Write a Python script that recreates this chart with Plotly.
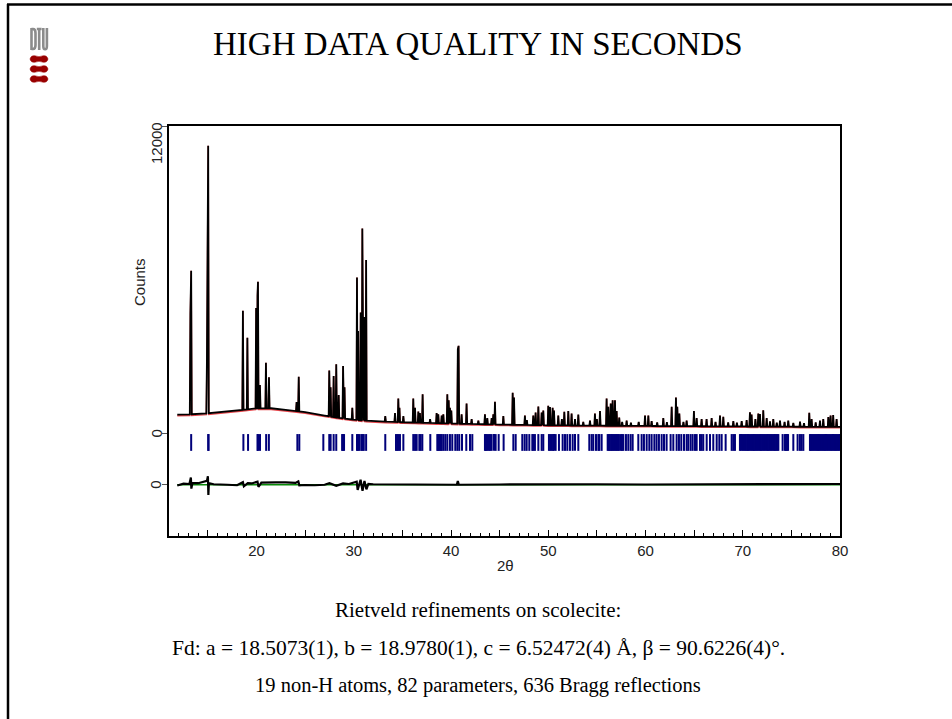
import numpy as np
import plotly.graph_objects as go

# ---------------- data ----------------
# background (2theta, counts) for observed and calculated curves
bg_x = [11.85, 13.0, 14.5, 16.0, 18.0, 20.0, 21.5, 23.0, 25.0, 27.0, 28.5, 30.0, 32.0,
        35.0, 40.0, 45.0, 50.0, 55.0, 60.0, 65.0, 70.0, 75.0, 80.0]
bg_obs = [740, 745, 770, 820, 900, 980, 985, 930, 830, 700, 610, 540, 480,
          440, 390, 350, 320, 305, 295, 285, 275, 265, 255]
bg_calc = [690, 700, 725, 775, 855, 935, 940, 890, 790, 660, 570, 500, 440,
           400, 350, 315, 285, 270, 260, 250, 240, 230, 220]

# observed / calculated reflections: position (deg 2theta) and peak top (counts)
peak_pos = [13.20, 13.28, 14.90, 14.97, 15.03, 18.60, 19.06, 19.96, 20.10, 20.15,
            20.35, 20.97, 21.28, 24.12, 24.34, 27.48, 27.62, 27.93, 28.20, 28.45,
            28.90, 29.05, 29.85, 30.33, 30.45, 30.71, 30.88, 31.07, 31.27, 33.24,
            34.24, 34.58, 34.70, 35.10, 36.12, 36.30, 36.64, 36.80, 37.08, 37.85,
            38.52, 38.69, 39.04, 39.21, 39.62, 39.76, 39.89, 40.03, 40.70, 40.78,
            41.09, 41.60, 42.12, 42.81, 43.49, 43.73, 44.18, 44.35, 44.52, 45.38,
            46.34, 46.48, 47.60, 47.80, 48.46, 48.70, 48.98, 49.32, 49.49, 50.00,
            50.18, 50.45, 50.59, 51.03, 51.40, 51.65, 52.06, 52.40, 52.75, 53.09,
            53.60, 54.29, 54.80, 55.00, 55.32, 56.00, 56.17, 56.42, 56.62, 56.86,
            57.03, 57.30, 57.60, 58.06, 58.50, 59.30, 59.95, 60.29, 60.63, 61.20,
            61.83, 62.20, 62.69, 63.13, 63.27, 63.48, 63.90, 64.23, 64.98, 65.26,
            65.77, 66.28, 66.80, 67.20, 67.66, 68.00, 68.50, 69.03, 69.40, 69.89,
            70.40, 70.74, 70.91, 71.30, 71.60, 71.77, 72.11, 72.46, 72.80, 73.14,
            73.50, 73.83, 74.30, 74.68, 75.20, 75.89, 76.30, 76.84, 77.08, 77.50,
            77.94, 78.28, 78.80, 79.03, 79.30, 79.65]
peak_top = [4700, 6350, 2860, 9960, 11230, 4790, 3735, 4900, 5370, 5920,
            1890, 2760, 2190, 1230, 2210, 2460, 1800, 2240, 2700, 1500,
            2630, 1800, 1000, 6090, 4000, 4720, 8000, 4550, 6770, 675,
            800, 1365, 1000, 675, 1365, 1000, 860, 800, 1535, 560,
            800, 750, 700, 750, 1535, 1300, 1000, 900, 3280, 3420,
            750, 1170, 560, 500, 750, 600, 600, 750, 1235, 680,
            1590, 1400, 700, 520, 700, 820, 1050, 820, 900, 1085,
            1030, 1000, 900, 700, 560, 845, 880, 775, 560, 735,
            450, 500, 775, 560, 880, 1365, 1040, 1170, 1300, 1300,
            880, 620, 450, 500, 420, 450, 700, 700, 480, 430,
            600, 440, 1040, 1400, 1040, 775, 450, 500, 880, 600,
            560, 560, 600, 450, 700, 650, 430, 480, 420, 480,
            520, 830, 740, 560, 780, 760, 905, 600, 470, 560,
            420, 500, 450, 500, 410, 460, 400, 810, 560, 430,
            500, 560, 640, 700, 720, 560]

# difference curve (2theta, obs - calc)
diff_x = [11.85, 12.5, 13.1, 13.25, 13.3, 13.4, 14.0, 14.9, 15.0, 15.05, 15.1, 15.6,
          17.0, 18.0, 18.6, 18.7, 19.1, 19.5, 20.1, 20.2, 20.5, 21.0, 22.0, 23.0,
          24.0, 24.3, 24.4, 25.0, 26.0, 27.0, 27.5, 28.2, 28.9, 29.5, 30.3, 30.4,
          30.7, 30.9, 31.1, 31.3, 31.5, 32.0, 35.0, 40.6, 40.7, 40.8, 45.0, 50.0,
          55.0, 60.0, 65.0, 70.0, 75.0, 80.0]
diff_y = [-30, 40, 30, 280, -150, 60, 60, 150, 330, -400, 60, 20,
          0, -20, 100, -60, 60, 50, 120, -80, 80, 90, 90, 90,
          70, 130, -20, -10, -20, 0, 60, -40, 50, 30, 120, -200,
          195, -235, 150, -180, 30, 20, 20, 0, 150, 0, 10, 20,
          20, 10, 10, 30, 20, 30]
diff_offset = -2000

# Bragg reflection positions
bragg = [13.28, 15.03, 15.07, 18.65, 19.13, 20.10, 20.15, 20.36, 20.99, 21.27,
         24.20, 24.40, 26.87, 27.48, 27.62, 27.93, 28.20, 28.80, 28.90, 29.00,
         29.85, 30.33, 30.45, 30.58, 30.78, 30.90, 31.03, 31.27, 33.24, 34.34,
         34.48, 34.58, 34.75, 35.10, 36.12, 36.30, 36.47, 36.74, 36.88, 37.05,
         37.87, 38.59, 38.69, 38.80, 38.93, 39.04, 39.21, 39.41, 39.62, 39.89,
         40.13, 40.44, 40.65, 40.85, 41.13, 41.57, 41.95, 42.19, 43.49, 43.60,
         43.73, 43.87, 44.01, 44.18, 44.42, 44.59, 44.90, 45.41, 46.41, 46.65,
         47.33, 47.57, 47.78, 48.05, 48.36, 48.46, 48.63, 48.98, 49.32, 49.49,
         50.07, 50.21, 50.35, 50.49, 50.59, 50.76, 51.10, 51.48, 51.72, 51.96,
         52.23, 52.51, 52.75, 53.09, 54.22, 54.46, 54.63, 54.91, 55.15, 55.25,
         55.49, 56.11, 56.23, 56.33, 56.46, 56.57, 56.69, 56.80, 56.93, 57.03,
         57.15, 57.27, 57.45, 57.58, 57.72, 57.99, 58.23, 58.47, 58.68, 59.26,
         59.60, 59.84, 60.12, 60.39, 60.63, 60.91, 61.14, 61.38, 61.66, 61.90,
         62.17, 62.58, 62.86, 63.20, 63.44, 63.68, 63.96, 64.23, 64.40, 64.64,
         64.85, 65.09, 65.26, 65.60, 65.77, 65.94, 66.29, 66.63, 66.97, 67.32,
         67.59, 67.83, 68.24, 68.86, 69.03, 69.20, 69.71, 69.82, 69.96, 70.07,
         70.20, 70.31, 70.44, 70.55, 70.66, 70.80, 70.91, 71.04, 71.15, 71.27,
         71.40, 71.51, 71.63, 71.76, 71.87, 71.99, 72.12, 72.23, 72.35, 72.48,
         72.59, 72.71, 72.84, 72.95, 73.07, 73.20, 73.31, 73.43, 73.56, 73.66,
         74.10, 74.34, 74.45, 74.55, 74.66, 75.20, 75.64, 75.88, 76.05, 76.23,
         76.91, 77.02, 77.15, 77.26, 77.38, 77.50, 77.62, 77.74, 77.85, 77.97,
         78.09, 78.21, 78.33, 78.45, 78.56, 78.68, 78.80, 78.92, 79.04, 79.16,
         79.28, 79.40, 79.52, 79.63, 79.75, 79.87, 79.99]
bragg_level = -350

x_tick_vals = [15, 20, 25, 30, 35, 40, 45, 50, 55, 60, 65, 70, 75, 80]
x_tick_text = ["", "20", "", "30", "", "40", "", "50", "", "60", "", "70", "", "80"]
y_tick_vals = [-2000, 0, 12000]
y_tick_text = ["0", "0", "12000"]

title_text = "HIGH DATA QUALITY IN SECONDS"
caption_lines = [
    "Rietveld refinements on scolecite:",
    "Fd: a = 18.5073(1), b = 18.9780(1), c = 6.52472(4) Å, β = 90.6226(4)°.",
    "19 non-H atoms, 82 parameters, 636 Bragg reflections",
]

# ---------------- build profile lines ----------------
HW = 0.06


def profile(bx, by):
    base = lambda t: float(np.interp(t, bx, by))
    xs, ys, spans = [], [], []
    n = len(peak_pos)
    start = None
    for i in range(n):
        p, h = peak_pos[i], peak_top[i]
        if i == 0 or p - peak_pos[i - 1] > 2 * HW:
            xs.append(p - HW); ys.append(base(p - HW)); start = p - HW
        xs.append(p); ys.append(h)
        if i == n - 1 or peak_pos[i + 1] - p > 2 * HW:
            xs.append(p + HW); ys.append(base(p + HW)); spans.append((start, p + HW))
    for t, v in zip(bx, by):
        if not any(a <= t <= b for a, b in spans):
            xs.append(t); ys.append(v)
    order = np.argsort(xs, kind="stable")
    return [xs[k] for k in order], [ys[k] for k in order]


obs_x, obs_y = profile(bg_x, bg_obs)
calc_x, calc_y = profile(bg_x, bg_calc)

fig = go.Figure()
fig.add_trace(go.Scatter(x=calc_x, y=calc_y, mode="lines",
                         line=dict(color="#e8474c", width=1.5), hoverinfo="skip"))
fig.add_trace(go.Scatter(x=obs_x, y=obs_y, mode="lines",
                         line=dict(color="black", width=1.8), hoverinfo="skip"))
fig.add_trace(go.Scatter(x=bragg, y=[bragg_level] * len(bragg), mode="markers",
                         marker=dict(symbol="line-ns", size=12,
                                     line=dict(color="#00007a", width=2)),
                         hoverinfo="skip"))
fig.add_trace(go.Scatter(x=[diff_x[0], diff_x[-1]], y=[diff_offset, diff_offset],
                         mode="lines", line=dict(color="#0a8a0a", width=1.6),
                         hoverinfo="skip"))
fig.add_trace(go.Scatter(x=diff_x, y=[diff_offset + d for d in diff_y], mode="lines",
                         line=dict(color="black", width=2.2), hoverinfo="skip"))

W, H = 952, 719
L, R, T, B = 169, 112, 126, 183
PW, PH = W - L - R, H - T - B


def px(x):
    return (x - L) / PW


def py(y):
    return (H - B - y) / PH


axis_font = dict(family="Liberation Sans, Arial, sans-serif", size=15, color="#222")
serif = "Liberation Serif, Times New Roman, serif"

fig.update_layout(
    width=W, height=H, showlegend=False,
    paper_bgcolor="white", plot_bgcolor="white",
    margin=dict(l=L, r=R, t=T, b=B),
    xaxis=dict(range=[11, 80], showgrid=False, zeroline=False,
               showline=True, linecolor="black", linewidth=1.5, mirror=True,
               ticks="inside", ticklen=6, tickwidth=1, tickcolor="black",
               tickvals=x_tick_vals, ticktext=x_tick_text, tickfont=axis_font,
               minor=dict(ticks="inside", ticklen=3, dtick=1, tickcolor="black",
                          showgrid=False)),
    yaxis=dict(range=[-4000, 12000], showgrid=False, zeroline=False,
               showline=True, linecolor="black", linewidth=1.5, mirror=True,
               ticks="outside", ticklen=5, tickwidth=1, tickcolor="#555",
               tickvals=y_tick_vals, showticklabels=False),
)


def note(x, y, text, font, angle=0, xa="center", ya="middle", yref="paper", ys=0):
    return dict(x=px(x), y=(py(y) if yref == "paper" else y), xref="paper", yref=yref,
                text=text, textangle=angle, showarrow=False, font=font,
                xanchor=xa, yanchor=ya, yshift=ys)


ann = []
for v, t in zip(y_tick_vals, y_tick_text):
    top = v == y_tick_vals[-1]
    ann.append(note(156, v, t, axis_font, angle=-90, yref="y",
                    ya="top" if top else "middle", ys=6 if top else 0))
ann.append(note(139, 282, "Counts", axis_font, angle=-90))
ann.append(note(505, 565, "2θ", axis_font))
ann.append(note(478, 44, title_text, dict(family=serif, size=33, color="black")))
for yy, t, fs in zip([610, 648, 685], caption_lines, [21, 21.5, 20.5]):
    ann.append(note(478, yy, t, dict(family=serif, size=fs, color="black")))
fig.update_layout(annotations=ann)

shapes = []
# slide frame
shapes.append(dict(type="line", xref="paper", yref="paper", x0=px(7), x1=px(952),
                   y0=py(4.5), y1=py(4.5), line=dict(color="black", width=2.5)))
shapes.append(dict(type="line", xref="paper", yref="paper", x0=px(8), x1=px(8),
                   y0=py(4), y1=py(719), line=dict(color="black", width=2.5)))
# DTU letters (narrow grey strokes)
logo_grey = "#8c8c8c"
dtu_paths = [
    f"M {px(31.5)} {py(28)} L {px(31.5)} {py(50)} M {px(31.5)} {py(29)} L {px(33)} {py(29)} "
    f"Q {px(35.5)} {py(29)} {px(35.5)} {py(33)} L {px(35.5)} {py(45)} "
    f"Q {px(35.5)} {py(49)} {px(33)} {py(49)} L {px(31.5)} {py(49)}",
    f"M {px(36.8)} {py(29)} L {px(41.6)} {py(29)} M {px(39.2)} {py(29)} L {px(39.2)} {py(50)}",
    f"M {px(43.3)} {py(28)} L {px(43.3)} {py(46)} Q {px(43.3)} {py(49.2)} {px(45.1)} {py(49.2)} "
    f"Q {px(46.9)} {py(49.2)} {px(46.9)} {py(46)} L {px(46.9)} {py(28)}",
]
for pth in dtu_paths:
    shapes.append(dict(type="path", xref="paper", yref="paper", path=pth,
                       line=dict(color=logo_grey, width=2.6)))
# DTU logo bow-ties
for cy in [59, 69, 79]:
    path = (f"M {px(30)} {py(cy)} "
            f"Q {px(31)} {py(cy-4)} {px(35)} {py(cy-3.2)} "
            f"Q {px(39)} {py(cy-1.5)} {px(43)} {py(cy-3.2)} "
            f"Q {px(47)} {py(cy-4)} {px(48)} {py(cy)} "
            f"Q {px(47)} {py(cy+4)} {px(43)} {py(cy+3.2)} "
            f"Q {px(39)} {py(cy+1.5)} {px(35)} {py(cy+3.2)} "
            f"Q {px(31)} {py(cy+4)} {px(30)} {py(cy)} Z")
    shapes.append(dict(type="path", xref="paper", yref="paper", path=path,
                       fillcolor="#990000", line=dict(color="#990000", width=0.5)))
fig.update_layout(shapes=shapes)

fig.write_html("out.html")
